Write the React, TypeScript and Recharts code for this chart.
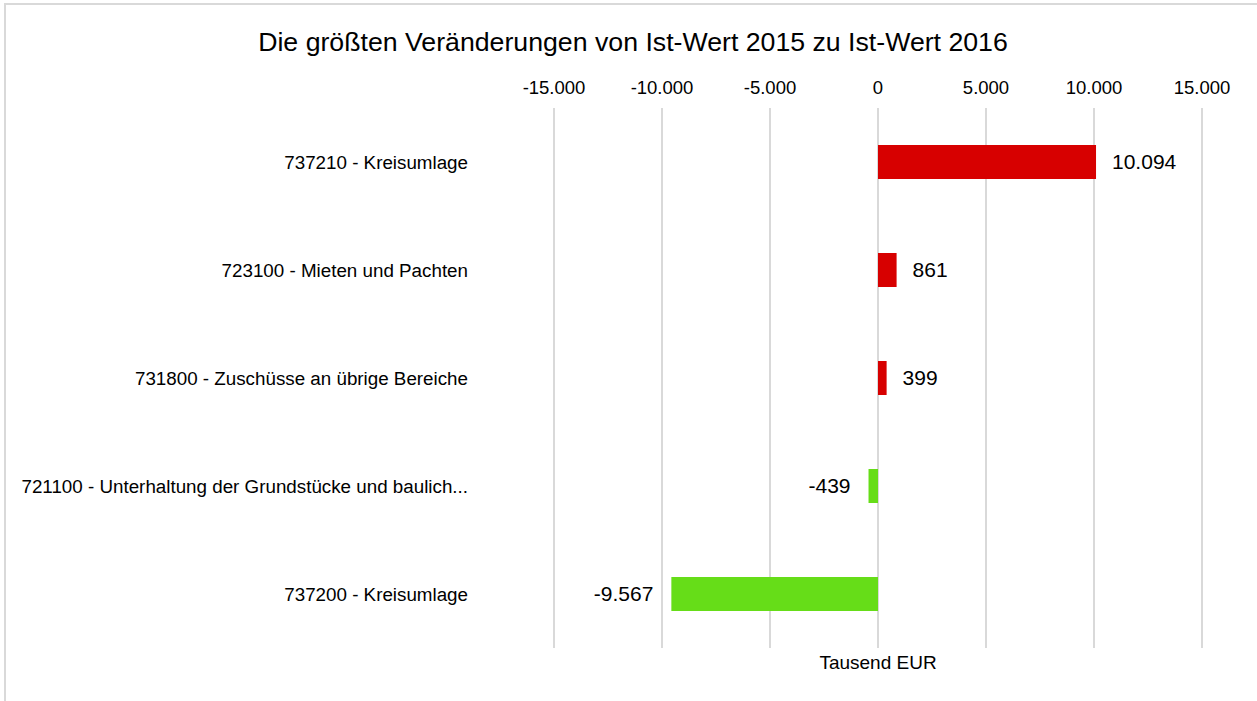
import React from "react";
import { BarChart, Bar, XAxis, YAxis, CartesianGrid, Cell, LabelList } from "recharts";

const categories = [
  "737210 - Kreisumlage",
  "723100 - Mieten und Pachten",
  "731800 - Zuschüsse an übrige Bereiche",
  "721100 - Unterhaltung der Grundstücke und baulich...",
  "737200 - Kreisumlage",
];
const values = [10094, 861, 399, -439, -9567];
const xTicks = [-15000, -10000, -5000, 0, 5000, 10000, 15000];
const title = "Die größten Veränderungen von Ist-Wert 2015 zu Ist-Wert 2016";
const unitLabel = "Tausend EUR";

const RED = "#d70000";
const GREEN = "#66dd18";
const FONT = "Arial, 'Liberation Sans', sans-serif";

const data = categories.map((name, i) => ({ name, value: values[i] }));

function fmt(v: number): string {
  const sign = v < 0 ? "-" : "";
  const s = Math.abs(Math.round(v)).toString();
  return sign + s.replace(/\B(?=(\d{3})+(?!\d))/g, ".");
}

const ValueLabel = (props: any) => {
  const { x, y, width, height, value } = props;
  const gap = 16;
  const cy = y + height / 2;
  if (value >= 0) {
    return (
      <text x={x + width + gap} y={cy} dy="0.35em" textAnchor="start" fontSize={21} fill="#000" fontFamily={FONT}>
        {fmt(value)}
      </text>
    );
  }
  const left = Math.min(x, x + width);
  return (
    <text x={left - 18} y={cy} dy="0.35em" textAnchor="end" fontSize={21} fill="#000" fontFamily={FONT}>
      {fmt(value)}
    </text>
  );
};

export default function App() {
  return (
    <div style={{ position: "absolute", left: 0, top: 0, width: 1257, height: 701, background: "#fff", fontFamily: FONT }}>
      <div
        style={{
          position: "absolute",
          left: 4,
          top: 3,
          width: 1253,
          height: 698,
          borderTop: "2px solid #d9d9d9",
          borderLeft: "2px solid #d9d9d9",
          boxSizing: "border-box",
        }}
      />
      <div
        style={{
          position: "absolute",
          left: 0,
          width: 1266,
          top: 25,
          textAlign: "center",
          fontSize: 26.7,
          lineHeight: "34px",
          color: "#000",
        }}
      >
        {title}
      </div>
      <div
        style={{
          position: "absolute",
          left: 778,
          width: 200,
          top: 652,
          textAlign: "center",
          fontSize: 19,
          lineHeight: "22px",
          color: "#000",
        }}
      >
        {unitLabel}
      </div>
      <div style={{ position: "absolute", left: 0, top: 0 }}>
        <BarChart
          width={1257}
          height={701}
          data={data}
          layout="vertical"
          margin={{ top: 68, right: 55, bottom: 53, left: 74 }}
          barCategoryGap={37}
        >
          <CartesianGrid horizontal={false} vertical={true} stroke="#d9d9d9" strokeWidth={2} />
          <XAxis
            type="number"
            orientation="top"
            domain={[-15000, 15000]}
            ticks={xTicks}
            tickFormatter={fmt}
            axisLine={false}
            tickLine={false}
            tickSize={0}
            tickMargin={14}
            height={40}
            interval={0}
            tick={{ fontSize: 18.5, fill: "#000", fontFamily: FONT }}
          />
          <YAxis
            type="category"
            dataKey="name"
            width={480}
            axisLine={false}
            tickLine={false}
            tickSize={0}
            tickMargin={86}
            interval={0}
            tick={{ fontSize: 18.8, fill: "#000", fontFamily: FONT }}
          />
          <Bar dataKey="value" barSize={34} isAnimationActive={false}>
            {data.map((d, i) => (
              <Cell key={i} fill={d.value >= 0 ? RED : GREEN} />
            ))}
            <LabelList dataKey="value" content={ValueLabel} />
          </Bar>
        </BarChart>
      </div>
    </div>
  );
}
